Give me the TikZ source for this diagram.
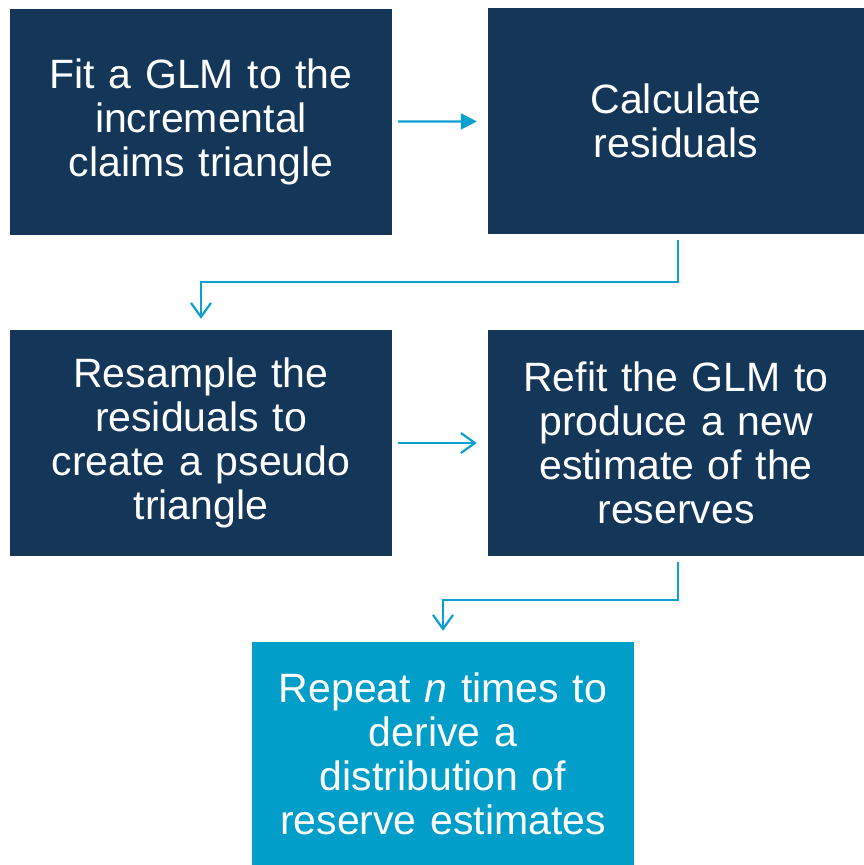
\documentclass[tikz,border=0pt]{standalone}
\usepackage{fontspec}
\setmainfont{Liberation Sans}
\usetikzlibrary{arrows.meta}
\definecolor{box_navy}{RGB}{20,54,89}
\definecolor{box_blue}{RGB}{0,158,200}
\definecolor{edge_blue}{RGB}{10,160,210}

\begin{document}
\begin{tikzpicture}[x=1pt,y=-1pt]
    \tikzstyle{box}=[fill=box_navy, minimum width=382pt, minimum height=226pt, inner sep=0pt,
                     text width=370pt, align=center, text=white, font=\fontsize{41}{44}\selectfont]
    \tikzstyle{link}=[draw=edge_blue, line width=2.2pt]
    \tikzstyle{barb}=[-{Straight Barb[length=14pt,width=20pt]}]

    \useasboundingbox (0,0) rectangle (864,865);

    \node[box] (fit)      at (201,122)   {Fit a GLM to the\\incremental\\claims triangle};
    \node[box, minimum width=376pt] (calc) at (676,121) {Calculate\\residuals};
    \node[box] (resample) at (201,443)   {Resample the\\residuals to\\create a pseudo\\triangle};
    \node[box, minimum width=376pt] (refit) at (676,443) {Refit the GLM to\\produce a new\\estimate of the\\reserves};
    \node[box, fill=box_blue, minimum height=223pt] (repeat) at (443,753.5)
        {Repeat \textit{n} times to\\derive a\\distribution of\\reserve estimates};

    \draw[link, -{Triangle[length=16pt,width=16pt]}, shorten <=6pt, shorten >=11pt] (fit) -- (calc);
    \draw[link, barb, shorten <=6pt, shorten >=11pt] (resample) -- (refit);
    \draw[link, barb, shorten <=6pt, shorten >=11pt]
        ([xshift=2pt]calc.south) -- ++(0,48) -| (resample.north);
    \draw[link, barb, shorten <=6pt, shorten >=11pt]
        ([xshift=2pt]refit.south) -- ++(0,44) -| (repeat.north);
\end{tikzpicture}
\end{document}
